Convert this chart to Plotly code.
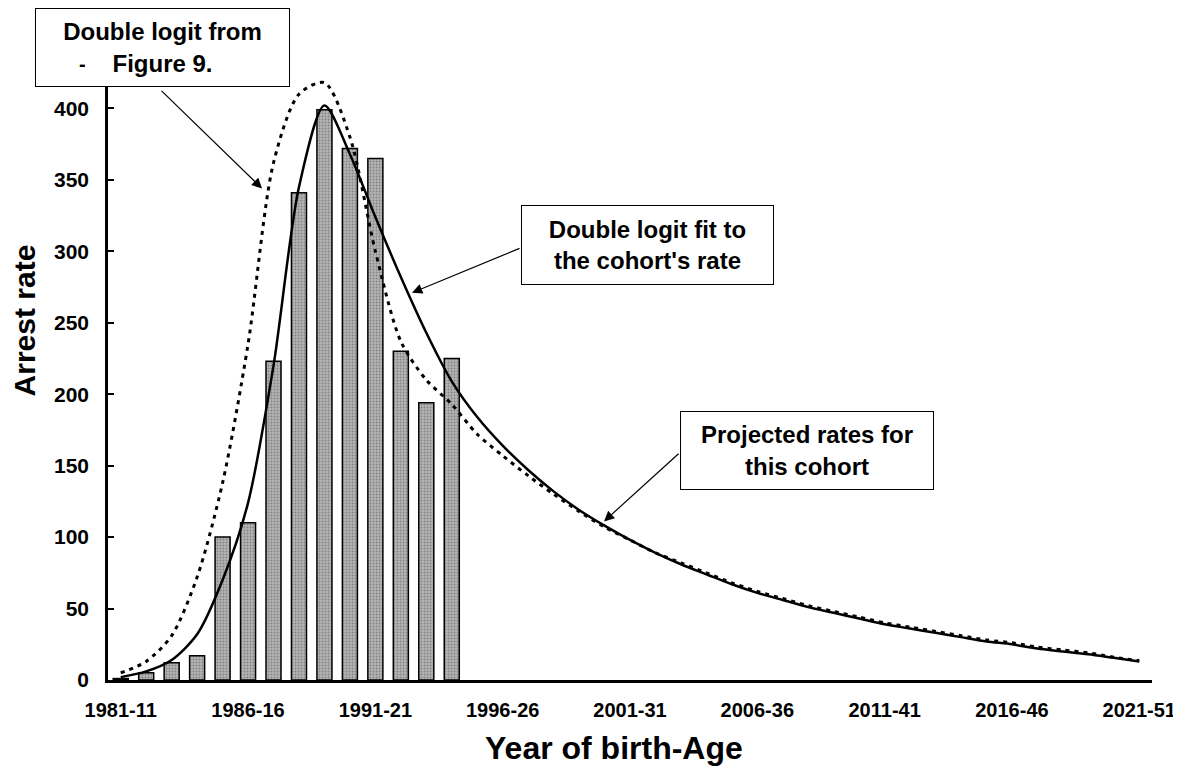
import plotly.graph_objects as go

FONT = "Liberation Sans, Arial, Helvetica, sans-serif"
INK = "#000000"

# categories: year of birth 1981 + age 11, one step per year
YEARS = list(range(1981, 2022))
AGES = list(range(11, 52))
YEAR_AGE = [f"{y}-{a}" for y, a in zip(YEARS, AGES)]
TICK_LABELS = YEAR_AGE[::5]

# observed arrest rates (bars), 1981-11 .. 1994-24
OBSERVED = [1, 5, 12, 17, 100, 110, 223, 341, 399, 372, 365, 230, 194, 225]

# double logit fitted to this cohort (solid)
FIT_COHORT = [2, 6, 14, 32, 70, 124, 220, 345, 402, 368, 324, 282, 243, 209, 184,
              164, 147, 132, 119, 108, 98, 89, 81, 74, 67, 61, 56, 51, 47, 43,
              39, 36, 33, 30, 27, 25, 22, 20, 18, 15.5, 13]

# double logit from Figure 9 (dotted)
FIT_FIG9 = [5, 13, 31, 72, 138, 235, 362, 410, 418, 380, 300, 237, 210, 193, 172,
            157, 143, 130, 118, 107, 98, 89, 82, 75, 68, 62, 57, 52, 48, 44,
            40, 37, 34, 31, 28, 26, 23, 21, 19, 16, 13.5]

fig = go.Figure()

fig.add_trace(
    go.Bar(
        x=YEAR_AGE[: len(OBSERVED)],
        y=OBSERVED,
        marker=dict(
            color="#b4b4b4",
            line=dict(color=INK, width=1.5),
            pattern=dict(shape=".", fgcolor="#505050", size=3, solidity=0.3),
        ),
        showlegend=False,
    )
)
fig.add_trace(
    go.Scatter(
        x=YEAR_AGE,
        y=FIT_FIG9,
        mode="lines",
        line=dict(color=INK, width=3, dash="4px,5px", shape="spline", smoothing=0.8),
        showlegend=False,
    )
)
fig.add_trace(
    go.Scatter(
        x=YEAR_AGE,
        y=FIT_COHORT,
        mode="lines",
        line=dict(color=INK, width=2.5, shape="spline", smoothing=0.8),
        showlegend=False,
    )
)

box_font = dict(family=FONT, size=24, color=INK, weight=700)


def text_box(text, x, y, w, h):
    fig.add_annotation(
        text=text, xref="paper", yref="paper", x=x, y=y,
        xanchor="center", yanchor="middle", showarrow=False,
        width=w, height=h, align="center",
        bgcolor="white", bordercolor=INK, borderwidth=1, borderpad=0,
        font=box_font,
    )


def pointer(x, y, ax, ay):
    fig.add_annotation(
        text="", x=x, y=y, xref="x", yref="y", ax=ax, ay=ay,
        showarrow=True, arrowhead=2, arrowsize=1.7, arrowwidth=1.2, arrowcolor=INK,
    )


pointer(5.55, 344, -102, -99)
pointer(11.44, 271, 109, -45)
pointer(18.98, 111, 76, -69)

text_box("Double logit from<br>Figure 9.", 0.0522, 0.984, 253, 77)
text_box("Double logit fit to<br>the cohort's rate", 0.5168, 0.6765, 251, 78)
text_box("Projected rates for<br>this cohort", 0.6695, 0.3569, 252, 77)
fig.add_annotation(
    text="-", xref="paper", yref="paper", x=-0.024, y=0.958,
    xanchor="center", yanchor="middle",
    showarrow=False, font=dict(family=FONT, size=20, color=INK, weight=700),
)

# axis titles placed as annotations
fig.add_annotation(
    text="Year of birth-Age", xref="paper", yref="paper", x=0.485, y=-0.106,
    xanchor="center", yanchor="middle", showarrow=False,
    font=dict(family=FONT, size=32, color=INK, weight=700),
)
fig.add_annotation(
    text="Arrest rate", xref="paper", yref="paper", x=-0.08, y=0.56,
    xanchor="center", yanchor="middle", textangle=-90, showarrow=False,
    font=dict(family=FONT, size=30, color=INK, weight=700),
)

# the page body adds an 8px margin, so the figure is 8px smaller than the window
fig.update_layout(
    width=1173,
    height=765,
    margin=dict(l=100, r=29, t=29, b=93),
    paper_bgcolor="white",
    plot_bgcolor="white",
    bargap=0.41,
    font=dict(family=FONT, color=INK),
)
fig.update_xaxes(
    type="category",
    categoryorder="array",
    categoryarray=YEAR_AGE,
    range=[-0.5, 40.5],
    tickvals=TICK_LABELS,
    ticktext=TICK_LABELS,
    tickfont=dict(family=FONT, size=20, color=INK, weight=700),
    ticklabelstandoff=10,
    ticks="",
    showline=True, linecolor=INK, linewidth=2.5,
    showgrid=False, zeroline=False,
    automargin=False,
)
fig.update_yaxes(
    range=[0, 450],
    tickvals=[0, 50, 100, 150, 200, 250, 300, 350, 400],
    tickfont=dict(family=FONT, size=21, color=INK, weight=700),
    ticks="inside", ticklen=6, tickwidth=2, tickcolor=INK,
    ticklabelstandoff=12,
    showline=True, linecolor=INK, linewidth=2.5,
    showgrid=False, zeroline=False,
    automargin=False,
)

fig.write_html("out.html")
